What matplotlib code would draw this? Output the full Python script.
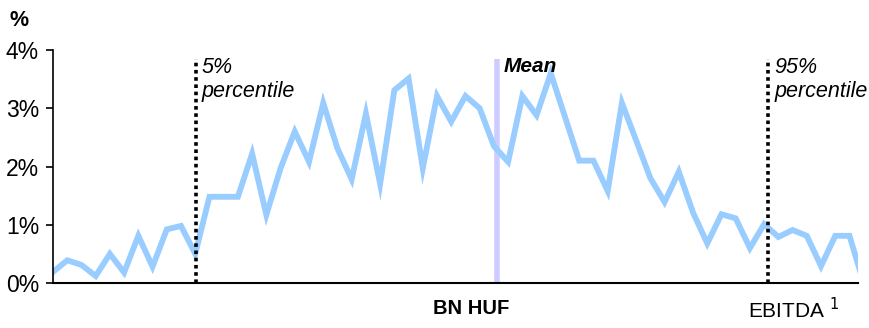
import matplotlib
matplotlib.use("Agg")
import matplotlib.pyplot as plt
import numpy as np

plt.rcParams['font.family'] = ['Liberation Sans', 'DejaVu Sans']

# Distribution share (%) per EBITDA bucket
values = [0.19, 0.39, 0.31, 0.12, 0.50, 0.18, 0.81, 0.28, 0.92, 0.98,
          0.50, 1.48, 1.48, 1.48, 2.22, 1.17, 1.97, 2.60, 2.08, 3.09,
          2.31, 1.78, 2.91, 1.70, 3.31, 3.51, 1.97, 3.21, 2.77, 3.21,
          3.00, 2.35, 2.08, 3.21, 2.88, 3.60, 2.85, 2.10, 2.10, 1.58,
          3.09, 2.45, 1.80, 1.39, 1.91, 1.21, 0.68, 1.18, 1.11, 0.60,
          1.01, 0.79, 0.91, 0.81, 0.29, 0.81, 0.81, 0.00]
yticks = [0, 1, 2, 3, 4]
ytick_labels = ["0%", "1%", "2%", "3%", "4%"]
p5_pos = 10.05
mean_pos = 31.2
p95_pos = 50.3

fig = plt.figure(figsize=(8.69, 3.28), dpi=100)
ax = fig.add_axes([53/869, 1-283/328, (858-53)/869, (283-50)/328])

x = np.arange(len(values))
ax.plot(x, values, color="#99ccff", lw=4.2, solid_joinstyle="miter", zorder=2)

ax.vlines([p5_pos, p95_pos], 0, 3.85, colors="black", linestyles=(0, (1, 1)), lw=2.6, zorder=3)
ax.vlines([mean_pos], 0, 3.85, colors="#ccccff", lw=4, zorder=1)

ax.text(p5_pos + 0.4, 3.88, "5%\npercentile", fontsize=15.5, style="italic", va="top", ha="left", linespacing=1.2)
ax.text(mean_pos + 0.5, 3.88, "Mean", fontsize=15, style="italic", weight="bold", va="top", ha="left")
ax.text(p95_pos + 0.4, 3.88, "95%\npercentile", fontsize=15.5, style="italic", va="top", ha="left", linespacing=1.2)

ax.set_xlim(0, 56.6)
ax.set_ylim(0, 4)
ax.set_yticks(yticks)
ax.set_yticklabels(ytick_labels, fontsize=16.5)
ax.set_xticks([])
ax.tick_params(axis="y", direction="out", length=5, width=1.2, pad=5)
for s in ["top", "right"]:
    ax.spines[s].set_visible(False)
ax.spines["left"].set_linewidth(1.2)
ax.spines["bottom"].set_linewidth(1.5)

fig.text(10/869, 1-20/328, "%", fontsize=15.5, weight="bold", va="center", ha="left")
fig.text(471/869, 1-308/328, "BN HUF", fontsize=14.5, weight="bold", va="center", ha="center")
fig.text(748/869, 1-310/328, "EBITDA $^{1}$", fontsize=15, va="center", ha="left")

fig.savefig("out.png", dpi=100)
